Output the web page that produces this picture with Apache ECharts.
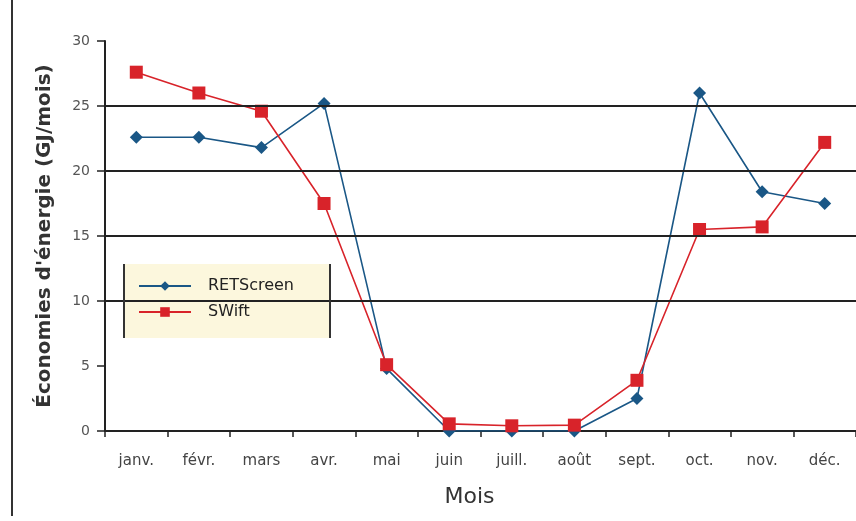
<!DOCTYPE html>
<html>
<head>
<meta charset="utf-8">
<script src="https://cdn.jsdelivr.net/npm/echarts@6/dist/echarts.min.js"></script>
<style>html,body{margin:0;padding:0;background:#fff}#c{width:856px;height:521px}</style>
</head>
<body>
<div id="c"></div>
<script>
const months = ['janv.','févr.','mars','avr.','mai','juin','juill.','août','sept.','oct.','nov.','déc.'];
const retscreen = [22.6, 22.6, 21.8, 25.2, 4.8, 0.0, 0.0, 0.0, 2.5, 26.0, 18.4, 17.5];
const swift = [27.6, 26.0, 24.6, 17.5, 5.1, 0.55, 0.4, 0.45, 3.9, 15.5, 15.7, 22.2];
const gridLevels = [10, 15, 20, 25];
const yTicks = {min: 0, max: 30, interval: 5};

const FONT = "'DejaVu Sans', 'Liberation Sans', Arial, sans-serif";
const chart = echarts.init(document.getElementById('c'));
chart.setOption({
  animation: false,
  backgroundColor: '#fff',
  grid: {left: 105, top: 41, height: 390, width: 763},
  legend: {
    orient: 'vertical', left: 124, top: 264,
    padding: [14, 10, 10, 14],
    itemGap: 10, itemWidth: 52, itemHeight: 12,
    textStyle: {fontFamily: FONT, fontSize: 16, color: '#222', padding: [0, 0, 0, 12]},
    data: ['RETScreen', 'SWift']
  },
  graphic: [
    {type: 'line', shape: {x1: 12, y1: 0, x2: 12, y2: 516}, style: {stroke: '#333', lineWidth: 2}},
    {type: 'rect', shape: {x: 124, y: 264, width: 206, height: 74}, style: {fill: '#fcf7dd'}, z: 1},
    {type: 'line', shape: {x1: 124, y1: 264, x2: 124, y2: 338}, style: {stroke: '#333', lineWidth: 2}, z: 100},
    {type: 'line', shape: {x1: 330, y1: 264, x2: 330, y2: 338}, style: {stroke: '#333', lineWidth: 2}, z: 100}
  ],
  xAxis: {
    type: 'category', data: months, boundaryGap: true,
    name: 'Mois', nameLocation: 'middle', nameGap: 55,
    nameTextStyle: {fontFamily: FONT, fontSize: 22, color: '#333', padding: [0, 22, 0, 0]},
    axisLine: {lineStyle: {color: '#222', width: 2}},
    axisTick: {show: true, length: 6, lineStyle: {color: '#222', width: 1.5}},
    axisLabel: {fontFamily: FONT, fontSize: 15, color: '#444', margin: 23}
  },
  yAxis: {
    type: 'value', min: yTicks.min, max: yTicks.max, interval: yTicks.interval,
    name: "Économies d'énergie (GJ/mois)", nameLocation: 'middle', nameGap: 50, nameRotate: 90,
    nameTextStyle: {fontFamily: FONT, fontSize: 20, fontWeight: 'bold', color: '#333'},
    axisLine: {show: true, lineStyle: {color: '#222', width: 2}},
    axisTick: {show: true, length: 8, lineStyle: {color: '#222', width: 1.5}},
    axisLabel: {fontFamily: FONT, fontSize: 14, color: '#555', margin: 15},
    splitLine: {show: false}
  },
  series: [
    {
      name: 'SWift', type: 'line', data: swift,
      symbol: 'rect', symbolSize: 13,
      itemStyle: {color: '#d8232a'},
      lineStyle: {color: '#d8232a', width: 1.6},
      z: 3
    },
    {
      name: 'RETScreen', type: 'line', data: retscreen,
      symbol: 'diamond', symbolSize: 13,
      itemStyle: {color: '#1a5786'},
      lineStyle: {color: '#1a5786', width: 1.6},
      z: 2,
      markLine: {
        silent: true, symbol: 'none', label: {show: false},
        lineStyle: {color: '#222', width: 2, type: 'solid'},
        data: gridLevels.map(v => ({yAxis: v}))
      }
    }
  ]
});
</script>
</body>
</html>
